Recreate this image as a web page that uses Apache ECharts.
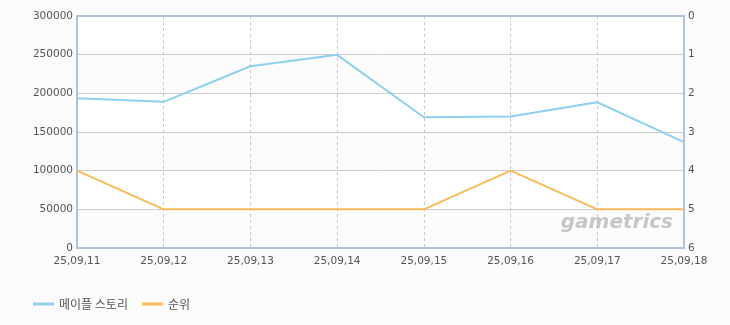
<!DOCTYPE html>
<html><head><meta charset="utf-8">
<script src="https://cdn.jsdelivr.net/npm/echarts@6/dist/echarts.min.js"></script>
<style>html,body{margin:0;padding:0;background:#fbfbfb;}#c{width:730px;height:325px;}</style>
</head><body><div id="c"></div>
<script>
const categories = ['25,09,11','25,09,12','25,09,13','25,09,14','25,09,15','25,09,16','25,09,17','25,09,18'];
const seriesNames = ['메이플 스토리','순위'];
const viewers = [193500, 189000, 235000, 249800, 169000, 170000, 188500, 137000];
const rank = [4, 5, 5, 5, 5, 4, 5, 5];
const leftTicks = [0, 50000, 100000, 150000, 200000, 250000, 300000];
const rightTicks = [0, 1, 2, 3, 4, 5, 6];

const chart = echarts.init(document.getElementById('c'));
const font = {fontFamily: 'DejaVu Sans', fontSize: 10.5, color: '#555'};
const border = {show: true, lineStyle: {color: '#b3c3d6', width: 2}};
chart.setOption({
  backgroundColor: '#fbfbfb',
  animation: false,
  grid: {left: 77, right: 46, top: 16, bottom: 77, show: true, borderWidth: 0, backgroundColor: '#fff'},
  legend: {
    left: 28, top: 293, itemWidth: 21, itemHeight: 3, itemGap: 14,
    icon: 'rect',
    textStyle: {fontFamily: 'Noto Sans CJK KR', fontSize: 12, color: '#555'},
    data: seriesNames
  },
  graphic: [{
    type: 'text', right: 57, top: 213, z: 100,
    style: {text: 'gametrics', font: 'italic bold 20px "DejaVu Sans"', fill: 'rgba(175,175,175,0.7)'}
  }],
  xAxis: [{
    type: 'category', data: categories, boundaryGap: false,
    axisLine: border, axisTick: {show: false},
    axisLabel: Object.assign({margin: 8, interval: 0}, font),
    splitLine: {show: true, lineStyle: {color: '#c8c8c8', type: [3, 3]}}
  }, {
    type: 'category', data: categories, boundaryGap: false, position: 'top',
    axisLine: border, axisTick: {show: false}, axisLabel: {show: false}, splitLine: {show: false}
  }],
  yAxis: [{
    type: 'value', min: 0, max: 300000, interval: 50000,
    axisLine: border, axisTick: {show: false},
    axisLabel: Object.assign({margin: 4, formatter: v => String(v)}, font),
    splitLine: {show: true, lineStyle: {color: '#cccccc'}},
    splitArea: {show: true, areaStyle: {color: ['#fcfcfc', '#ffffff']}}
  }, {
    type: 'value', min: 0, max: 6, interval: 1, inverse: true, position: 'right',
    axisLine: border, axisTick: {show: false},
    axisLabel: Object.assign({margin: 4}, font),
    splitLine: {show: false}
  }],
  series: [{
    name: seriesNames[0], type: 'line', data: viewers, yAxisIndex: 0,
    symbol: 'none', lineStyle: {color: '#8fd0f0', width: 2}, itemStyle: {color: '#8fd0f0'}
  }, {
    name: seriesNames[1], type: 'line', data: rank, yAxisIndex: 1,
    symbol: 'none', lineStyle: {color: '#fbbb5a', width: 2}, itemStyle: {color: '#fbbb5a'}
  }]
});
</script></body></html>
